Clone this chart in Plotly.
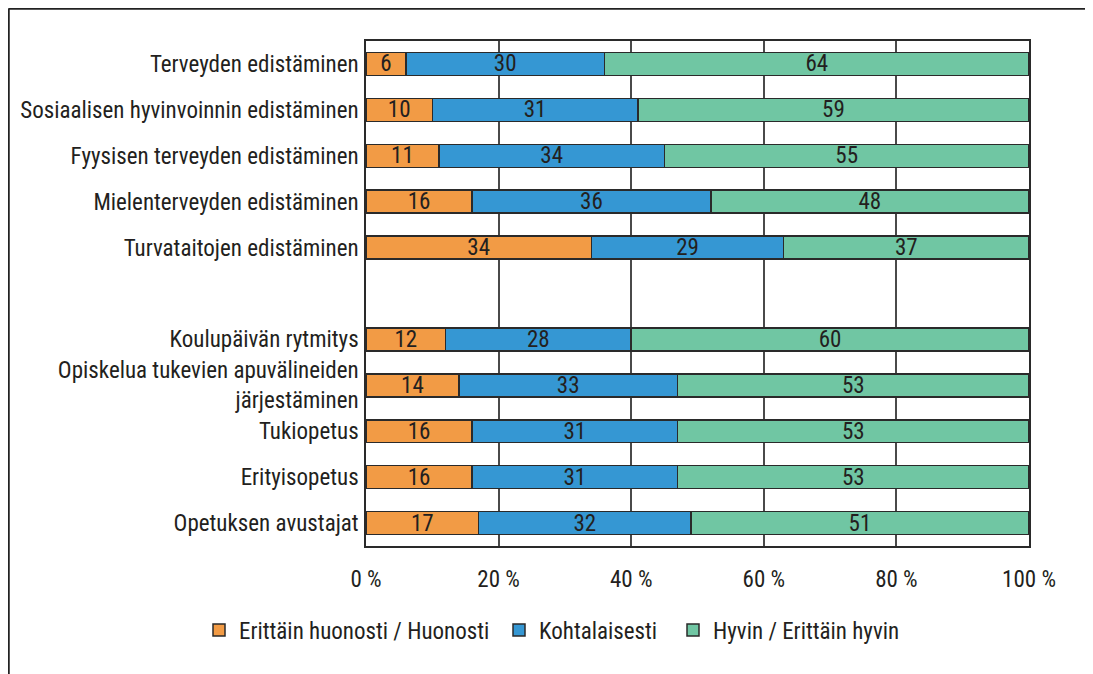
import plotly.graph_objects as go

categories_a = [
    "Terveyden edistäminen",
    "Sosiaalisen hyvinvoinnin edistäminen",
    "Fyysisen terveyden edistäminen",
    "Mielenterveyden edistäminen",
    "Turvataitojen edistäminen",
]
categories_b = [
    "Koulupäivän rytmitys",
    "Opiskelua tukevien apuvälineiden<br>järjestäminen",
    "Tukiopetus",
    "Erityisopetus",
    "Opetuksen avustajat",
]
poor_a = [6, 10, 11, 16, 34]
moderate_a = [30, 31, 34, 36, 29]
good_a = [64, 59, 55, 48, 37]
poor_b = [12, 14, 16, 16, 17]
moderate_b = [28, 33, 31, 31, 32]
good_b = [60, 53, 53, 53, 51]

series_names = ["Erittäin huonosti / Huonosti", "Kohtalaisesti", "Hyvin / Erittäin hyvin"]
colors = ["#F29B45", "#3597D3", "#70C6A3"]
x_ticks = [0, 20, 40, 60, 80, 100]
x_ticktext = ["0 %", "20 %", "40 %", "60 %", "80 %", "100 %"]

categories = categories_a + categories_b
positions = list(range(len(categories_a))) + [len(categories_a) + 1 + i for i in range(len(categories_b))]
series = [poor_a + poor_b, moderate_a + moderate_b, good_a + good_b]

FONT = "Roboto Condensed, Roboto, sans-serif"
FW = 400
TXT = "#231f20"

W, H = 1085, 666
L, R, T, B = 358, 64, 33, 128
PW, PH = W - L - R, H - T - B

legend_names = ["legend", "legend2", "legend3"]
legend_x = [191, 491, 665]

fig = go.Figure()
for name, vals, col, lg in zip(series_names, series, colors, legend_names):
    fig.add_trace(go.Bar(
        x=vals, y=positions, orientation="h", name=name, legend=lg,
        marker=dict(color=col, line=dict(color="#2a2a2a", width=1.5)),
        text=[str(v) for v in vals], textposition="inside",
        insidetextanchor="middle", textangle=0,
        textfont=dict(family=FONT, size=23, color=TXT, weight=FW),
        hoverinfo="skip",
    ))

legend_common = dict(orientation="h", xanchor="left", xref="container",
                     y=1 - 622 / H, yanchor="middle", yref="container",
                     font=dict(family=FONT, size=23, color=TXT, weight=FW),
                     itemwidth=30, bgcolor="rgba(0,0,0,0)")

fig.update_layout(
    barmode="stack", bargap=0.5,
    width=W, height=H,
    margin=dict(l=L, r=R, t=T, b=B, autoexpand=False),
    paper_bgcolor="white", plot_bgcolor="white",
    font=dict(family=FONT, size=23, color=TXT, weight=FW),
    uniformtext=dict(minsize=23, mode="show"),
    showlegend=True,
    legend=dict(x=legend_x[0] / W, **legend_common),
    legend2=dict(x=legend_x[1] / W, **legend_common),
    legend3=dict(x=legend_x[2] / W, **legend_common),
    xaxis=dict(range=[0, 100], tickvals=x_ticks, ticktext=x_ticktext,
               showgrid=True, gridcolor="#4a4a4a", gridwidth=1.5,
               showline=True, linecolor="#2a2a2a", linewidth=1.5, mirror=True,
               zeroline=False, ticks="", ticklabelstandoff=12, fixedrange=True,
               automargin=False),
    yaxis=dict(range=[len(categories_a) + len(categories_b) + 0.5, -0.5],
               tickvals=positions, ticktext=categories,
               showgrid=False, showline=True, linecolor="#2a2a2a", linewidth=1.5,
               mirror=True, zeroline=False, ticks="", ticklabelstandoff=1,
               fixedrange=True, automargin=False),
    shapes=[
        dict(type="line", xref="paper", yref="paper",
             x0=(0.5 - L) / PW, x1=(W + 10 - L) / PW,
             y0=(PH + T - 0.5) / PH, y1=(PH + T - 0.5) / PH,
             line=dict(color="#222222", width=2.5)),
        dict(type="line", xref="paper", yref="paper",
             x0=(0.5 - L) / PW, x1=(0.5 - L) / PW,
             y0=(PH + T - 0.5) / PH, y1=-(B + 20) / PH,
             line=dict(color="#222222", width=2.5)),
    ],
)

fig.write_html("out.html")
